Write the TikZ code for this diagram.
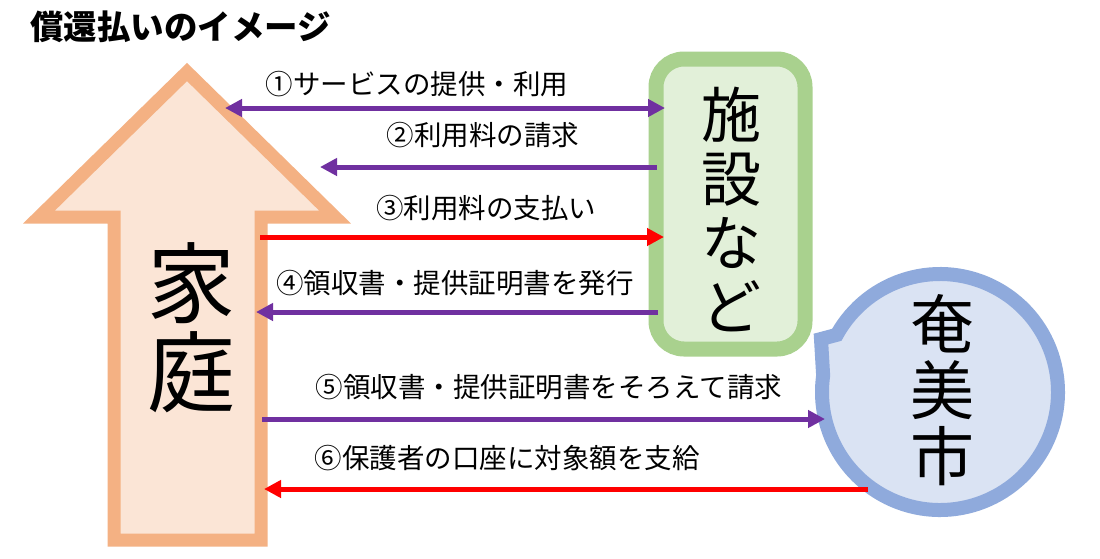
\documentclass[tikz,border=0pt]{standalone}
\usepackage{fontspec}
\newfontfamily\jp{Noto Sans CJK JP}
\usetikzlibrary{arrows.meta}
\definecolor{kFill}{HTML}{FBE5D6}
\definecolor{kLine}{HTML}{F4B183}
\definecolor{gFill}{HTML}{E2F0D9}
\definecolor{gLine}{HTML}{A9D18E}
\definecolor{bFill}{HTML}{DAE3F3}
\definecolor{bLine}{HTML}{8FAADC}
\definecolor{purp}{HTML}{7030A0}
\definecolor{redc}{HTML}{FF0000}
\begin{document}
\begin{tikzpicture}[x=1pt,y=-1pt,
  lbl/.style={font=\jp\fontsize{27.5}{30}\selectfont, inner sep=0pt, anchor=center},
  tipstyle/.style={line width=5pt},
  flow/.style={tipstyle, -{Triangle[length=17pt,width=17pt]}},
  both/.style={tipstyle, {Triangle[length=17pt,width=17pt]}-{Triangle[length=17pt,width=17pt]}},
  vtext/.style={align=center, inner sep=0pt}
]
\useasboundingbox (0,0) rectangle (1100,558);
\fill[white] (0,0) rectangle (1100,558);

% title
\node[anchor=west, inner sep=0pt, font=\jp\bfseries\fontsize{33.5}{34}\selectfont] (title) at (30,27) {償還払いのイメージ};

% household block arrow
\draw[kLine, fill=kFill, line width=13pt, miter limit=10]
  (187,72) -- (335,217) -- (261,217) -- (261,540) -- (114,540) -- (114,217) -- (39,217) -- cycle;
\node[vtext, font=\jp\fontsize{88}{89}\selectfont] (kotei) at (191,328) {家\\庭};

% facility box
\draw[gLine, fill=gFill, line width=15pt, rounded corners=28pt] (656,59) rectangle (805,349);
\node[vtext, font=\jp\fontsize{60}{64}\selectfont] (shisetsu) at (731,209) {施\\設\\な\\ど};

% city callout
\coordinate (cc) at (940,392);
\coordinate (tail) at (821,339);
\draw[bLine, fill=bFill, line width=14pt, line join=miter]
  (tail) -- ([shift={(151:118pt)}]cc) arc[start angle=151, end angle=-188, radius=118pt] -- cycle;
\node[vtext, font=\jp\fontsize{64}{66}\selectfont] (city) at (942,390) {奄\\美\\市};

% connector end points
\coordinate (a1l) at (225,108);  \coordinate (a1r) at (665,108);
\coordinate (a2s) at (657,167);  \coordinate (a2e) at (320,167);
\coordinate (a3s) at (260,237);  \coordinate (a3e) at (664,237);
\coordinate (a4s) at (658,312);  \coordinate (a4e) at (256,312);
\coordinate (a5s) at (262,419);  \coordinate (a5e) at (825,419);
\coordinate (a6s) at (868,489);  \coordinate (a6e) at (264,489);

\draw[both, purp] (a1l) -- (a1r);
\draw[flow, purp] (a2s) -- (a2e);
\draw[flow, redc] (a3s) -- (a3e);
\draw[flow, purp] (a4s) -- (a4e);
\draw[flow, purp] (a5s) -- (a5e);
\draw[flow, redc] (a6s) -- (a6e);

% labels
\node[lbl] (l1) at (417,84) {①サービスの提供・利用};
\node[lbl] (l2) at (483,135) {②利用料の請求};
\node[lbl] (l3) at (486,208) {③利用料の支払い};
\node[lbl] (l4) at (455,283) {④領収書・提供証明書を発行};
\node[lbl] (l5) at (549,387) {⑤領収書・提供証明書をそろえて請求};
\node[lbl] (l6) at (507,458) {⑥保護者の口座に対象額を支給};
\end{tikzpicture}
\end{document}
